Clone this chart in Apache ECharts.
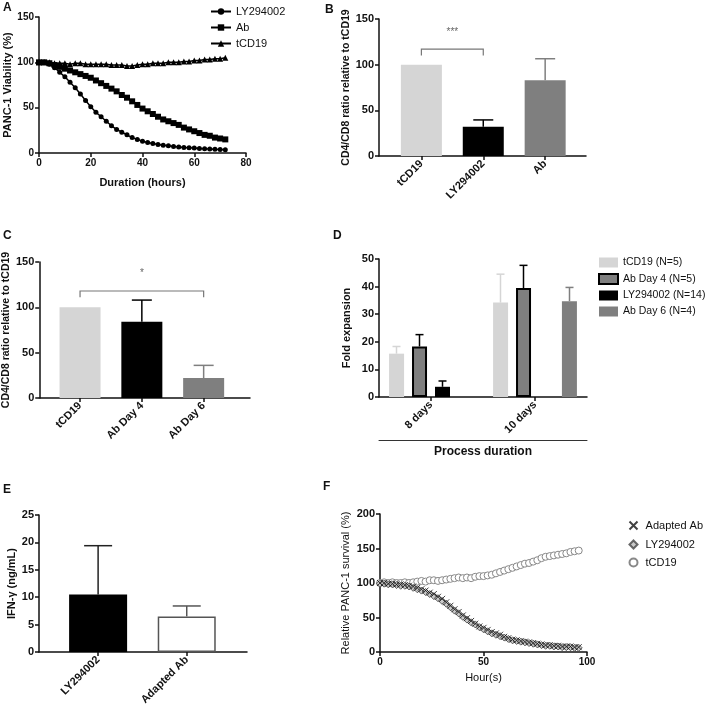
<!DOCTYPE html>
<html>
<head>
<meta charset="utf-8">
<script src="https://cdn.jsdelivr.net/npm/echarts@6/dist/echarts.min.js"></script>
<style>
  html, body { margin: 0; padding: 0; background: #fff; }
  #main { width: 708px; height: 711px; }
</style>
</head>
<body>
<div id="main"></div>
<script>
// ---- panel A : viability over time ----
const hoursA = [0,2,4,6,8,10,12,14,16,18,20,22,24,26,28,30,32,34,36,38,40,42,44,46,48,50,52,54,56,58,60,62,64,66,68,70,72];
const lyA = [100,100,98,94,89,84,78,72,65,58,51,45,40,35,30,26,23,20,17,15,13,11.5,10.5,9.5,8.5,8,7.2,6.7,6.2,5.8,5.4,5,4.7,4.4,4.1,3.9,3.6];
const abA = [100,100,99,97,95,93,91,89,87,85,83,80,77,74,71,68,64,61,57,53,49,46,43,40,37,35,33,31,28,26,24,22,20,19,17,16,15];
const tcdA = [100,100,100,99,99,99,98,99,99,98,98,98,98,98,97,97,97,96,96,97,98,98,99,99,99,100,100,100,101,101,102,102,103,103,104,104,105];

// ---- panel B ----
const catsB = ['tCD19', 'LY294002', 'Ab'];
const valsB = [100, 32, 83];
const errB = [0, 7.5, 23.5];
const sigB = [0, 1, 117, 110, 136]; // from, to, bracket y, tick end, label y
// ---- panel C ----
const catsC = ['tCD19', 'Ab Day 4', 'Ab Day 6'];
const valsC = [100, 84, 22];
const errC = [0, 24, 14];
const sigC = [0, 2, 118, 111, 138];
// ---- panel D ----
const catsD = ['8 days', '10 days'];
const namesD = ['tCD19 (N=5)', 'Ab Day 4 (N=5)', 'LY294002 (N=14)', 'Ab Day 6 (N=4)'];
const valsD = [[15.7, 34.2], [18.3, 39.5], [3.7, null], [null, 34.7]];
const errD = [[2.6, 10.3], [4.3, 8.2], [2.1, null], [null, 5]];
// ---- panel E ----
const catsE = ['LY294002', 'Adapted Ab'];
const valsE = [10.5, 6.5];
const errE = [8.9, 1.9];
// ---- panel F ----
const hoursF = [0,2,4,6,8,10,12,14,16,18,20,22,24,26,28,30,32,34,36,38,40,42,44,46,48,50,52,54,56,58,60,62,64,66,68,70,72,74,76,78,80,82,84,86,88,90,92,94,96];
const adaptedF = [100,100,99,99,98,98,97,96,95,93,91,89,86,84,80,77,72,67,62,58,53,49,45,41,37,35,32,29,27,25,22,20,18,17,16,15,14,13,12,11,10,10,9,9,8,8,8,7,7];
const lyF = [99,99,98,98,97,96,96,95,93,91,89,87,84,81,78,74,70,65,60,56,51,47,43,40,36,33,30,27,25,23,21,19,17,16,15,14,13,12,11,10,9,9,8,8,7,7,7,6,6];
const tcdF = [100,101,100,101,100,100,101,100,101,102,103,102,104,104,103,104,105,106,107,108,107,108,107,109,110,110,111,112,114,116,118,120,122,124,126,128,129,131,133,136,138,139,140,141,142,143,145,146,147];

const FONT = 'Liberation Sans, Arial, sans-serif';
const LIGHT = '#d5d5d5', DARK = '#7f7f7f', BLACK = '#000';

const chart = echarts.init(document.getElementById('main'));

function boldText(size) {
  return { fontFamily: FONT, fontWeight: 'bold', fontSize: size, color: '#111' };
}
const axisLine = { show: true, onZero: false, lineStyle: { color: '#111', width: 1.5 } };
const axisTick = { show: true, length: 4, lineStyle: { color: '#111', width: 1.5 } };

function valueAxis(grid, min, max, interval, extra) {
  return Object.assign({
    type: 'value', gridIndex: grid, min: min, max: max, interval: interval,
    axisLine: axisLine, axisTick: axisTick, splitLine: { show: false },
    axisLabel: Object.assign({ margin: 5 }, boldText(10))
  }, extra || {});
}
// x axis for bar panels: value axis with labels only at bar positions
function barXAxis(grid, cats, min, max) {
  const idx = cats.map((c, i) => i);
  return {
    type: 'value', gridIndex: grid, min: min, max: max,
    axisLine: axisLine, splitLine: { show: false },
    axisTick: Object.assign({ customValues: idx }, axisTick),
    axisLabel: Object.assign({ customValues: idx, rotate: 45, margin: 6, formatter: v => cats[Math.round(v)] }, boldText(11))
  };
}

function errorBar(cap, offset) {
  return function (params, api) {
    const x = api.value(0), v = api.value(1), e = api.value(2);
    if (v == null || isNaN(v) || !e) return;
    const p0 = api.coord([x, v]), p1 = api.coord([x, v + e]);
    const dx = offset || 0;
    const st = { stroke: api.visual('color'), lineWidth: 1.5 };
    return {
      type: 'group', children: [
        { type: 'line', shape: { x1: p0[0] + dx, y1: p0[1], x2: p1[0] + dx, y2: p1[1] }, style: st },
        { type: 'line', shape: { x1: p1[0] + dx - cap, y1: p1[1], x2: p1[0] + dx + cap, y2: p1[1] }, style: st }
      ]
    };
  };
}

function bracket(label) {
  return function (params, api) {
    const a = api.coord([api.value(0), api.value(2)]), b = api.coord([api.value(1), api.value(2)]);
    const a0 = api.coord([api.value(0), api.value(3)]), b0 = api.coord([api.value(1), api.value(3)]);
    const t = api.coord([(api.value(0) + api.value(1)) / 2, api.value(4)]);
    return {
      type: 'group', children: [
        { type: 'polyline', shape: { points: [a0, a, b, b0] }, style: { stroke: '#777', lineWidth: 1.2, fill: null } },
        { type: 'text', x: t[0], y: t[1], style: { text: label, align: 'center', verticalAlign: 'middle', fill: '#666', font: '10px ' + FONT } }
      ]
    };
  };
}

function errData(vals, errs, colors) {
  return vals.map((v, i) => ({ value: [i, v, errs[i]], itemStyle: { color: colors[i] } }));
}
function barData(vals, styles) {
  return vals.map((v, i) => ({ value: [i, v], itemStyle: styles[i] }));
}

const barOffsetD = [-34.5, -11.5, 11.5, 34.5];
const styleD = [
  { color: LIGHT },
  { color: DARK, borderColor: BLACK, borderWidth: 2 },
  { color: BLACK },
  { color: DARK }
];
const errColorD = [LIGHT, BLACK, BLACK, DARK];

const seriesD = [];
namesD.forEach((n, k) => {
  seriesD.push({
    name: n, type: 'bar', xAxisIndex: 3, yAxisIndex: 3, barWidth: 15, barGap: '53%',
    itemStyle: styleD[k], data: valsD[k], z: 2
  });
});
namesD.forEach((n, k) => {
  seriesD.push({
    name: 'errD' + k, type: 'custom', xAxisIndex: 3, yAxisIndex: 3, clip: false, z: 1,
    renderItem: errorBar(4, barOffsetD[k]),
    itemStyle: { color: errColorD[k] },
    encode: { x: 0, y: 1 },
    data: valsD[k].map((v, i) => [i, v, errD[k][i]])
  });
});

const legendText = { fontFamily: FONT, fontSize: 11, color: '#111' };

const option = {
  animation: false,
  backgroundColor: '#fff',
  textStyle: { fontFamily: FONT },
  grid: [
    { left: 39, top: 17, width: 207, height: 136 },
    { left: 379, top: 19, width: 207, height: 137 },
    { left: 39, top: 262, width: 211, height: 136 },
    { left: 379, top: 259, width: 208, height: 138 },
    { left: 39, top: 515, width: 208, height: 137 },
    { left: 380, top: 514, width: 207, height: 138 }
  ],
  xAxis: [
    valueAxis(0, 0, 80, 20, { name: 'Duration (hours)', nameLocation: 'middle', nameGap: 24, nameTextStyle: boldText(11) }),
    barXAxis(1, catsB, -0.685, 2.66),
    barXAxis(2, catsC, -0.66, 2.75),
    {
      type: 'category', gridIndex: 3, data: catsD, axisLine: axisLine,
      axisTick: Object.assign({ alignWithLabel: true }, axisTick),
      axisLabel: Object.assign({ rotate: 45, margin: 6 }, boldText(11))
    },
    {
      type: 'category', gridIndex: 3, data: catsD, position: 'bottom', offset: 43,
      axisLine: { show: true, onZero: false, lineStyle: { color: '#333', width: 1 } },
      axisTick: { show: false }, axisLabel: { show: false },
      name: 'Process duration', nameLocation: 'middle', nameGap: 6, nameTextStyle: boldText(12)
    },
    barXAxis(4, catsE, -0.667, 1.68),
    valueAxis(5, 0, 100, 50, {
      name: 'Hour(s)', nameLocation: 'middle', nameGap: 20,
      nameTextStyle: { fontFamily: FONT, fontSize: 11, color: '#111' }
    })
  ],
  yAxis: [
    valueAxis(0, 0, 150, 50, { name: 'PANC-1 Viability (%)', nameLocation: 'middle', nameGap: 21, nameTextStyle: boldText(11) }),
    valueAxis(1, 0, 150, 50, { name: 'CD4/CD8 ratio relative to tCD19', nameLocation: 'middle', nameGap: 27, nameTextStyle: boldText(10.5), axisLabel: Object.assign({ margin: 5 }, boldText(11)) }),
    valueAxis(2, 0, 150, 50, { name: 'CD4/CD8 ratio relative to tCD19', nameLocation: 'middle', nameGap: 25, nameTextStyle: boldText(10.5), axisLabel: Object.assign({ margin: 5 }, boldText(11)) }),
    valueAxis(3, 0, 50, 10, { name: 'Fold expansion', nameLocation: 'middle', nameGap: 27, nameTextStyle: boldText(11), axisLabel: Object.assign({ margin: 5 }, boldText(11)) }),
    valueAxis(4, 0, 25, 5, { name: 'IFN-γ (ng/mL)', nameLocation: 'middle', nameGap: 21, nameTextStyle: boldText(11), axisLabel: Object.assign({ margin: 5 }, boldText(11)) }),
    valueAxis(5, 0, 200, 50, {
      name: 'Relative PANC-1 survival (%)', nameLocation: 'middle', nameGap: 29,
      nameTextStyle: { fontFamily: FONT, fontSize: 11, color: '#111' },
      axisLabel: Object.assign({ margin: 5 }, boldText(11))
    })
  ],
  legend: [
    {
      data: ['LY294002', 'Ab', 'tCD19'], orient: 'vertical', left: 205, top: 1,
      itemWidth: 20, itemHeight: 8, itemGap: 5, textStyle: legendText
    },
    {
      data: namesD, orient: 'vertical', left: 593, top: 252,
      itemWidth: 19, itemHeight: 10, itemGap: 5, icon: 'rect',
      textStyle: Object.assign({}, legendText, { fontSize: 10.5 })
    },
    {
      data: ['F:Adapted Ab', 'F:LY294002', 'F:tCD19'], orient: 'vertical', left: 622, top: 514,
      itemWidth: 8, itemHeight: 8, itemGap: 7,
      formatter: n => n.replace('F:', ' '),
      textStyle: legendText
    }
  ],
  graphic: [
    ['A', 3, 2], ['B', 325, 4], ['C', 3, 230], ['D', 333, 230], ['E', 3, 484], ['F', 323, 481]
  ].map(t => ({
    type: 'text', left: t[1], top: t[2],
    style: { text: t[0], font: 'bold 12px ' + FONT, fill: '#111' }
  })),
  series: [
    // A
    {
      name: 'LY294002', type: 'line', xAxisIndex: 0, yAxisIndex: 0, symbol: 'circle', symbolSize: 5,
      itemStyle: { color: BLACK }, lineStyle: { color: BLACK, width: 1.5 },
      data: hoursA.map((h, i) => [h, lyA[i]])
    },
    {
      name: 'Ab', type: 'line', xAxisIndex: 0, yAxisIndex: 0, symbol: 'rect', symbolSize: 6,
      itemStyle: { color: BLACK }, lineStyle: { color: BLACK, width: 1.5 },
      data: hoursA.map((h, i) => [h, abA[i]])
    },
    {
      name: 'tCD19', type: 'line', xAxisIndex: 0, yAxisIndex: 0, symbol: 'triangle', symbolSize: 6,
      itemStyle: { color: BLACK }, lineStyle: { color: BLACK, width: 1.5 },
      data: hoursA.map((h, i) => [h, tcdA[i]])
    },
    // B
    {
      name: 'barsB', type: 'bar', xAxisIndex: 1, yAxisIndex: 1, barWidth: 41, z: 2,
      data: barData(valsB, [{ color: LIGHT }, { color: BLACK }, { color: DARK }])
    },
    {
      name: 'errB', type: 'custom', xAxisIndex: 1, yAxisIndex: 1, clip: false, z: 1,
      renderItem: errorBar(10), encode: { x: 0, y: 1 },
      data: errData(valsB, errB, [LIGHT, BLACK, DARK])
    },
    {
      name: 'sigB', type: 'custom', xAxisIndex: 1, yAxisIndex: 1, clip: false,
      renderItem: bracket('***'), encode: { x: [0, 1], y: [2, 3] }, data: [sigB]
    },
    // C
    {
      name: 'barsC', type: 'bar', xAxisIndex: 2, yAxisIndex: 2, barWidth: 41, z: 2,
      data: barData(valsC, [{ color: LIGHT }, { color: BLACK }, { color: DARK }])
    },
    {
      name: 'errC', type: 'custom', xAxisIndex: 2, yAxisIndex: 2, clip: false, z: 1,
      renderItem: errorBar(10), encode: { x: 0, y: 1 },
      data: errData(valsC, errC, [LIGHT, BLACK, DARK])
    },
    {
      name: 'sigC', type: 'custom', xAxisIndex: 2, yAxisIndex: 2, clip: false,
      renderItem: bracket('*'), encode: { x: [0, 1], y: [2, 3] }, data: [sigC]
    },
    // D
    ...seriesD,
    // E
    {
      name: 'barsE', type: 'bar', xAxisIndex: 5, yAxisIndex: 4, barWidth: 58, z: 2,
      data: barData(valsE, [{ color: BLACK }, { color: '#fff', borderColor: '#555', borderWidth: 1.5 }])
    },
    {
      name: 'errE', type: 'custom', xAxisIndex: 5, yAxisIndex: 4, clip: false, z: 1,
      renderItem: errorBar(14), encode: { x: 0, y: 1 },
      data: errData(valsE, errE, ['#222', '#555'])
    },
    // F
    {
      name: 'F:tCD19', type: 'scatter', xAxisIndex: 6, yAxisIndex: 5, symbol: 'circle', symbolSize: 7,
      itemStyle: { color: '#fff', borderColor: '#888', borderWidth: 1, opacity: 1 },
      data: hoursF.map((h, i) => [h, tcdF[i]])
    },
    {
      name: 'F:LY294002', type: 'scatter', xAxisIndex: 6, yAxisIndex: 5, symbol: 'diamond', symbolSize: 7,
      itemStyle: { color: '#bbb', borderColor: '#444', borderWidth: 1 },
      data: hoursF.map((h, i) => [h, lyF[i]])
    },
    {
      name: 'F:Adapted Ab', type: 'scatter', xAxisIndex: 6, yAxisIndex: 5,
      symbol: 'path://M0,0L10,10M10,0L0,10', symbolSize: 6,
      itemStyle: { color: 'none', borderColor: '#111', borderWidth: 1 },
      data: hoursF.map((h, i) => [h, adaptedF[i]])
    }
  ]
};

chart.setOption(option);
</script>
</body>
</html>
